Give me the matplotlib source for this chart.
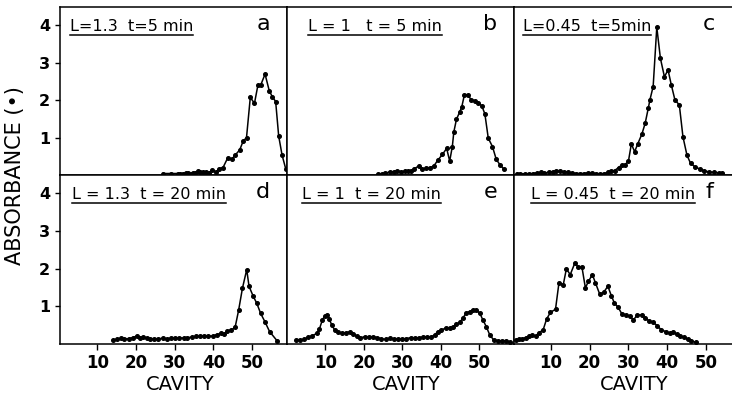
import matplotlib
matplotlib.use("Agg")
import matplotlib.pyplot as plt
from matplotlib.lines import Line2D

W, H = 732, 397

# panel a: L=1.3, t=5 min
cav_a = [27.2, 29.4, 31.2, 31.8, 32.5, 33.2, 33.9, 34.5, 35.2, 35.8, 36.4, 37.1, 37.8, 38.5,
         39.3, 40.2, 41.3, 42.1, 43.1, 44.3, 45.5, 46.3, 47.5, 48.4, 49.3, 50.3, 51.4, 52.3,
         53.1, 54.2, 55.3, 56.1, 57.0, 57.8, 58.7, 59.7]
abs_a = [0.04, 0.04, 0.04, 0.04, 0.04, 0.05, 0.05, 0.04, 0.05, 0.06, 0.10, 0.09, 0.08, 0.08,
         0.06, 0.13, 0.08, 0.17, 0.20, 0.45, 0.43, 0.53, 0.67, 0.90, 1.00, 2.07, 1.91, 2.39,
         2.41, 2.69, 2.25, 2.09, 1.96, 1.04, 0.53, 0.15]

# panel b: L=1, t=5 min
cav_b = [24.0, 25.1, 26.0, 27.1, 28.2, 29.1, 30.2, 31.1, 32.0, 32.9, 33.7, 34.8, 35.8, 36.8,
         37.7, 38.8, 39.9, 41.1, 42.2, 43.0, 43.7, 44.1, 44.8, 45.7, 46.2, 46.9, 47.8, 48.7,
         49.7, 50.6, 51.5, 52.3, 53.2, 54.3, 55.3, 56.3, 57.4]
abs_b = [0.02, 0.03, 0.05, 0.08, 0.09, 0.11, 0.09, 0.10, 0.11, 0.12, 0.17, 0.24, 0.15, 0.19,
         0.19, 0.24, 0.40, 0.55, 0.71, 0.37, 0.76, 1.15, 1.49, 1.69, 1.82, 2.14, 2.14, 2.00,
         1.98, 1.93, 1.84, 1.63, 0.98, 0.76, 0.42, 0.27, 0.15]

# panel c: L=0.45, t=5 min
cav_c = [0.7, 1.6, 2.9, 4.1, 5.1, 6.4, 7.3, 8.2, 9.5, 10.6, 11.5, 12.6, 13.8, 14.9, 15.9,
         17.1, 18.2, 19.3, 20.4, 21.5, 22.6, 23.7, 24.8, 25.9, 26.8, 27.7, 28.8, 29.7, 30.6,
         31.5, 32.3, 33.2, 34.1, 35.2, 36.1, 37.0, 37.4, 38.3, 39.3, 40.3, 41.4, 42.4, 43.3,
         44.3, 45.5, 46.5, 47.6, 48.6, 49.8, 51.1, 52.4, 53.8, 55.1, 56.4, 57.3]
abs_c = [0.04, 0.04, 0.03, 0.03, 0.04, 0.06, 0.07, 0.05, 0.07, 0.09, 0.11, 0.10, 0.09, 0.07,
         0.06, 0.04, 0.04, 0.04, 0.06, 0.05, 0.04, 0.03, 0.04, 0.07, 0.10, 0.12, 0.20, 0.27,
         0.28, 0.37, 0.83, 0.62, 0.84, 1.09, 1.38, 1.80, 2.00, 2.36, 3.94, 3.11, 2.62, 2.80,
         2.40, 2.00, 1.87, 1.02, 0.53, 0.31, 0.22, 0.16, 0.11, 0.08, 0.07, 0.06, 0.05]

# panel d: L=1.3, t=20 min
cav_d = [14.0, 15.1, 16.1, 17.0, 18.1, 19.2, 20.2, 21.1, 21.9, 22.8, 23.7, 24.7, 25.8, 26.9,
         28.0, 29.0, 30.1, 31.2, 32.3, 33.3, 34.4, 35.5, 36.6, 37.6, 38.7, 39.8, 40.9, 41.9,
         42.8, 43.6, 44.6, 45.6, 46.5, 47.5, 48.6, 49.2, 50.3, 51.2, 52.2, 53.3, 54.5, 56.4]
abs_d = [0.11, 0.12, 0.15, 0.14, 0.14, 0.17, 0.21, 0.16, 0.19, 0.16, 0.14, 0.12, 0.14, 0.15,
         0.14, 0.15, 0.16, 0.16, 0.16, 0.17, 0.18, 0.20, 0.20, 0.21, 0.21, 0.21, 0.25, 0.28,
         0.27, 0.35, 0.37, 0.44, 0.89, 1.48, 1.97, 1.53, 1.26, 1.08, 0.81, 0.59, 0.33, 0.09]

# panel e: L=1, t=20 min
cav_e = [2.3, 3.3, 4.4, 5.5, 6.6, 7.7, 8.4, 9.2, 9.8, 10.4, 11.0, 11.6, 12.4, 13.3, 14.2,
         15.3, 16.3, 17.2, 18.1, 19.1, 20.2, 21.3, 22.4, 23.4, 24.5, 25.7, 26.7, 27.7, 28.9,
         30.0, 31.0, 32.1, 33.2, 34.3, 35.4, 36.4, 37.5, 38.4, 39.2, 40.1, 41.2, 42.3, 43.2,
         44.0, 44.9, 45.8, 46.6, 47.5, 48.4, 49.2, 50.1, 50.9, 51.8, 52.7, 53.7, 54.9, 56.0,
         57.0, 57.9]
abs_e = [0.11, 0.11, 0.12, 0.18, 0.22, 0.28, 0.39, 0.64, 0.74, 0.77, 0.66, 0.51, 0.37, 0.31,
         0.28, 0.30, 0.32, 0.27, 0.21, 0.17, 0.19, 0.19, 0.19, 0.17, 0.14, 0.12, 0.15, 0.14,
         0.13, 0.14, 0.14, 0.17, 0.15, 0.17, 0.18, 0.19, 0.19, 0.24, 0.33, 0.37, 0.42, 0.42,
         0.46, 0.53, 0.57, 0.70, 0.83, 0.86, 0.91, 0.89, 0.82, 0.64, 0.46, 0.24, 0.11, 0.09,
         0.08, 0.08, 0.06]

# panel f: L=0.45, t=20 min
cav_f = [0.9, 1.8, 2.6, 3.5, 4.4, 5.2, 6.1, 6.9, 8.0, 8.9, 9.9, 11.2, 12.1, 13.2, 14.0, 15.0,
         16.2, 17.1, 18.0, 18.9, 19.7, 20.7, 21.5, 22.6, 23.6, 24.7, 25.6, 26.4, 27.3, 28.3,
         29.4, 30.4, 31.3, 32.3, 33.4, 34.4, 35.4, 36.4, 37.4, 38.5, 39.7, 40.7, 41.5, 42.4,
         43.3, 44.3, 45.4, 46.2, 47.4]
abs_f = [0.11, 0.12, 0.14, 0.17, 0.20, 0.23, 0.21, 0.30, 0.37, 0.66, 0.84, 0.92, 1.63, 1.57,
         1.99, 1.84, 2.15, 2.03, 2.05, 1.49, 1.66, 1.84, 1.62, 1.32, 1.37, 1.53, 1.28, 1.08,
         0.98, 0.80, 0.77, 0.73, 0.64, 0.77, 0.77, 0.68, 0.61, 0.57, 0.49, 0.37, 0.33, 0.28,
         0.33, 0.26, 0.20, 0.18, 0.12, 0.09, 0.04]

titles = ["L=1.3  t=5 min", "L = 1   t = 5 min", "L=0.45  t=5min",
          "L = 1.3  t = 20 min", "L = 1  t = 20 min", "L = 0.45  t = 20 min"]
letters = ["a", "b", "c", "d", "e", "f"]
y_ticks = [1, 2, 3, 4]
x_ticks_top = [10, 20, 30, 40, 50, 60]
x_ticks_bottom = [10, 20, 30, 40, 50]

# pixel boxes (x0, ytop, x1, ybottom) and x limits for each panel
BOXES = [(60, 7, 287, 175), (287, 7, 514, 175), (514, 7, 732, 175),
         (60, 175, 287, 344), (287, 175, 514, 344), (514, 175, 732, 344)]
XLIMS = [(0, 60), (0, 60), (0, 58), (0.4, 59), (0, 59), (0.5, 56.7)]
TITLE_X = [0.044, 0.093, 0.041, 0.053, 0.066, 0.078]


def box(x0, y0, x1, y1):
    return [x0 / W, 1 - y1 / H, (x1 - x0) / W, (y1 - y0) / H]


def main() -> None:
    plt.rcParams.update({
        "font.family": "DejaVu Sans",
        "axes.linewidth": 1.1,
        "xtick.major.width": 1.0,
        "ytick.major.width": 1.0,
        "xtick.major.size": 4,
        "ytick.major.size": 3.5,
        "xtick.direction": "out",
        "ytick.direction": "out",
    })
    fig = plt.figure(figsize=(W / 100, H / 100), dpi=100)

    data = [(cav_a, abs_a), (cav_b, abs_b), (cav_c, abs_c),
            (cav_d, abs_d), (cav_e, abs_e), (cav_f, abs_f)]
    titles_txt = []
    for i, (cx, ay) in enumerate(data):
        ax = fig.add_axes(box(*BOXES[i]))
        ax.plot(cx, ay, color="black", lw=1.1, marker="o", ms=2.6, mfc="black", mec="black")
        ax.set_xlim(*XLIMS[i])
        ax.set_ylim(0, 4.48)
        bottom = i >= 3
        ax.set_xticks(x_ticks_bottom if bottom else x_ticks_top)
        if bottom:
            ax.set_xticklabels([str(t) for t in x_ticks_bottom], fontsize=12, fontweight="bold")
            ax.set_xlabel("CAVITY", fontsize=14, va="top")
            ax.xaxis.set_label_coords(31 / (XLIMS[i][1] - XLIMS[i][0]), -0.185)
        else:
            ax.set_xticklabels([])
        if i % 3 == 0:
            ax.set_yticks(y_ticks)
            ax.set_yticklabels([str(t) for t in y_ticks], fontsize=11.5, fontweight="bold")
        else:
            ax.set_yticks([])
        if i % 3 == 2:
            ax.spines["right"].set_visible(False)
        ax.tick_params(axis="x", pad=3)
        for s in ax.spines.values():
            s.set_color("black")
        t = ax.text(TITLE_X[i], 0.885, titles[i], transform=ax.transAxes,
                    fontsize=11.5, ha="left", va="center")
        titles_txt.append(t)
        ax.text(0.895, 0.9, letters[i], transform=ax.transAxes,
                fontsize=16, ha="center", va="center")

    fig.text(15 / W, 1 - 176 / H, "ABSORBANCE (\u2022)", rotation=90, fontsize=15,
             ha="center", va="center")

    # underline the condition labels
    fig.canvas.draw()
    inv = fig.transFigure.inverted()
    for t in titles_txt:
        bb = t.get_window_extent()
        (x0, y0), (x1, _) = inv.transform([(bb.x0, bb.y0 - 1), (bb.x1, bb.y0)])
        fig.add_artist(Line2D([x0, x1], [y0, y0], color="black", lw=1.1,
                              transform=fig.transFigure))

    fig.savefig("out.png", dpi=100, facecolor="white")
    plt.close(fig)


if __name__ == "__main__":
    main()
